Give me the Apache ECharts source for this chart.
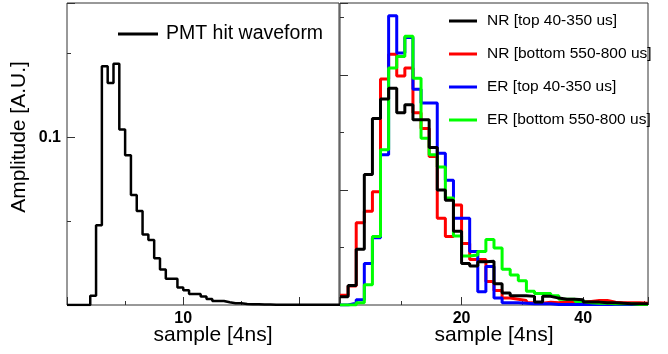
<!DOCTYPE html>
<html><head><meta charset="utf-8">
<script src="https://cdn.jsdelivr.net/npm/echarts@6/dist/echarts.min.js"></script>
<style>html,body{margin:0;padding:0;background:#fff}#c{width:668px;height:354px}</style>
</head><body><div id="c"></div>
<script>
// ---- data ----
const waveBinWidth = 0.5;           // left panel bin width [sample]
const waveValues = [0,0,0,0,0.0055,0.0475,0.1423,0.1323,0.1438,0.1046,0.0893,0.0655,0.056,0.042,0.0387,0.0278,0.0212,0.0157,0.0157,0.0105,0.0088,0.0065,0.0065,0.005,0.0036,0.0024,0.0024,0.0016,0.001,0.001,0.0006,0.0005,0.0004,0.0003,0.0003,0.0002,0.0002,0.0002,0.0002,0.0002,0.0002,0.0002,0.0002,0.0002,0.0002,0.0002,0.0002];
const binWidth = 4/3;                // right panel bin width [sample]
const nrTop    = [0.145,0.34,0.97,2.27,3.24,3.58,3.77,3.34,3.48,3.22,3.22,2.74,2.0,1.82,1.28,0.72,0.68,0.75,0.76,0.37,0.21,0.16,0.16,0.15,0.05,0.15,0.12,0.10,0.10,0.09,0.05,0.05,0.04,0.04,0.03,0.02,0.02,0.02];
const nrBottom = [0.17,0.33,1.43,1.63,1.97,3.93,4.36,3.98,4.12,3.34,3.07,2.58,1.51,1.19,1.74,1.07,0.79,0.79,0.41,0.25,0.12,0.10,0.08,0.04,0.03,0.05,0.04,0.06,0.06,0.06,0.06,0.08,0.08,0.05,0.04,0.04,0.04,0.03];
const erTop    = [0,0.03,0.09,0.72,1.17,2.61,5.03,4.38,4.65,3.75,3.51,3.51,2.64,2.17,1.51,1.51,0.93,0.23,0.67,0.12,0.04,0.04,0.03,0.02,0.02,0.02,0.01,0.01,0.01,0.01,0.01,0.01,0.01,0.01,0.01,0.01,0.01,0.01];
const erBottom = [0,0,0.04,0.35,1.19,2.70,4.12,4.32,4.67,3.94,2.90,2.61,2.40,1.86,1.20,0.85,0.87,0.93,1.14,0.99,0.62,0.52,0.42,0.24,0.20,0.20,0.16,0.10,0.10,0.06,0.04,0.03,0.03,0.02,0.02,0.02,0.01,0.01];
const leftLegend = ['PMT hit waveform'];
const rightLegend = ['NR [top 40-350 us]','NR [bottom 550-800 us]','ER [top 40-350 us]','ER [bottom 550-800 us]'];
const xTitle = 'sample [4ns]';
const yTitle = 'Amplitude [A.U.]';

function hist(values, w){
  const pts = values.map((v,i)=>[i*w, v]);
  pts.push([values.length*w, values[values.length-1]]);
  return pts;
}
const FONT = '"Liberation Sans", Arial, Helvetica, sans-serif';
const AX = '#333';
function axis(o){
  return Object.assign({
    type:'value', splitLine:{show:false}, axisLine:{show:false},
    axisTick:{show:true, inside:true, length:8, lineStyle:{color:AX,width:1}},
    axisLabel:{show:false}
  }, o);
}
const lab = (fmt, extra) => Object.assign({show:true, color:'#000', fontFamily:FONT, fontWeight:'bold', fontSize:16, formatter:fmt}, extra||{});

const chart = echarts.init(document.getElementById('c'), null, {renderer:'canvas'});
chart.setOption({
  animation:false,
  backgroundColor:'#fff',
  grid:[
    {left:67, top:3, width:272, height:302, show:true, borderColor:AX, borderWidth:1, backgroundColor:'transparent', containLabel:false, outerBoundsMode:'none'},
    {left:340, top:3, width:308, height:302, show:true, borderColor:AX, borderWidth:1, backgroundColor:'transparent', containLabel:false, outerBoundsMode:'none'}
  ],
  xAxis:[
    axis({gridIndex:0, position:'bottom', min:0, max:23.4, interval:10,
      axisLabel:lab(v=>v===10?'10':'', {margin:6}),
      name:xTitle, nameLocation:'middle', nameGap:20, nameMoveOverlap:false,
      nameTextStyle:{fontFamily:FONT, fontSize:21, color:'#000', padding:[0,0,0,20]}}),
    axis({gridIndex:0, position:'bottom', min:0, max:23.4, interval:5, axisTick:{show:true,inside:true,length:4,lineStyle:{color:AX}}}),
    axis({gridIndex:1, position:'bottom', min:0, max:50.67, interval:20,
      axisLabel:lab(v=>(v===20||v===40)?String(v):'', {margin:6}),
      name:xTitle, nameLocation:'middle', nameGap:20, nameMoveOverlap:false,
      nameTextStyle:{fontFamily:FONT, fontSize:21, color:'#000'}}),
    axis({gridIndex:1, position:'bottom', min:0, max:50.67, interval:10, axisTick:{show:true,inside:true,length:4,lineStyle:{color:AX}}})
  ],
  yAxis:[
    axis({gridIndex:0, position:'left', min:0, max:0.18, interval:0.1,
      axisLabel:lab(v=>Math.abs(v-0.1)<1e-9?'0.1':'', {margin:6}),
      name:yTitle, nameLocation:'middle', nameRotate:90, nameGap:37, nameMoveOverlap:false,
      nameTextStyle:{fontFamily:FONT, fontSize:21, color:'#000', padding:[0,0,0,34]}}),
    axis({gridIndex:0, position:'left', min:0, max:0.18, interval:0.05, axisTick:{show:true,inside:true,length:4,lineStyle:{color:AX}}}),
    axis({gridIndex:1, position:'left', min:0, max:5.25, interval:2}),
    axis({gridIndex:1, position:'left', min:0, max:5.25, interval:1, axisTick:{show:true,inside:true,length:4,lineStyle:{color:AX}}})
  ],
  legend:[
    {data:leftLegend, left:113, top:19, orient:'vertical', icon:'rect', itemWidth:40, itemHeight:3, selectedMode:false,
     textStyle:{fontFamily:FONT, fontSize:19.5, color:'#000', padding:[0,0,0,3]}},
    {data:rightLegend, left:444, top:8, orient:'vertical', icon:'rect', itemWidth:28, itemHeight:3, itemGap:17, selectedMode:false,
     textStyle:{fontFamily:FONT, fontSize:15.5, color:'#000', padding:[0,0,0,5]}}
  ],
  series:[
    {name:leftLegend[0], type:'line', xAxisIndex:0, yAxisIndex:0, step:'end', showSymbol:false, symbol:'none',
     data:hist(waveValues, waveBinWidth), lineStyle:{color:'#000', width:2.5}, itemStyle:{color:'#000'}, z:3},
    {name:rightLegend[1], type:'line', xAxisIndex:2, yAxisIndex:2, step:'end', symbol:'none',
     data:hist(nrBottom, binWidth), lineStyle:{color:'#ff0000', width:3}, itemStyle:{color:'#ff0000'}, z:3},
    {name:rightLegend[2], type:'line', xAxisIndex:2, yAxisIndex:2, step:'end', symbol:'none',
     data:hist(erTop, binWidth), lineStyle:{color:'#0000ff', width:3}, itemStyle:{color:'#0000ff'}, z:4},
    {name:rightLegend[3], type:'line', xAxisIndex:2, yAxisIndex:2, step:'end', symbol:'none',
     data:hist(erBottom, binWidth), lineStyle:{color:'#00ff00', width:3}, itemStyle:{color:'#00ff00'}, z:5},
    {name:rightLegend[0], type:'line', xAxisIndex:2, yAxisIndex:2, step:'end', symbol:'none',
     data:hist(nrTop, binWidth), lineStyle:{color:'#000', width:3}, itemStyle:{color:'#000'}, z:6}
  ]
});
</script></body></html>
